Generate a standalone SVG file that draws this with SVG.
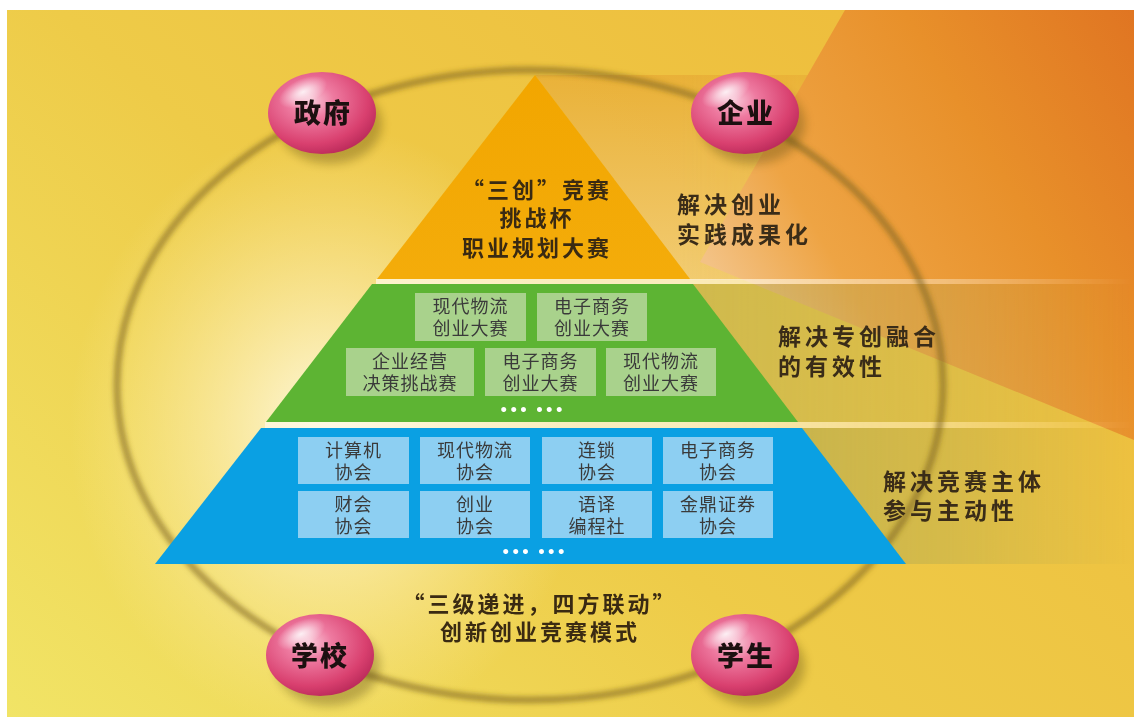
<svg xmlns="http://www.w3.org/2000/svg" width="1134" height="717" viewBox="0 0 1134 717">
<defs>
<linearGradient id="bg" x1="0" y1="1" x2="1" y2="0.3">
<stop offset="0" stop-color="#f1e466"/>
<stop offset="0.5" stop-color="#eecb48"/>
<stop offset="1" stop-color="#eebd3c"/>
</linearGradient>
<linearGradient id="org" x1="710" y1="265" x2="1134" y2="10" gradientUnits="userSpaceOnUse">
<stop offset="0" stop-color="#f3c285"/>
<stop offset="0.22" stop-color="#eea444"/>
<stop offset="0.6" stop-color="#e8902a"/>
<stop offset="1" stop-color="#e07522"/>
</linearGradient>
<radialGradient id="glow" cx="330" cy="430" r="290" gradientUnits="userSpaceOnUse" gradientTransform="translate(330 430) scale(0.9 1.05) translate(-330 -430)">
<stop offset="0" stop-color="#fffbe8" stop-opacity="0.95"/>
<stop offset="0.45" stop-color="#fff4c8" stop-opacity="0.55"/>
<stop offset="1" stop-color="#fff0b0" stop-opacity="0"/>
</radialGradient>
<linearGradient id="topband" x1="0" y1="0" x2="0" y2="1">
<stop offset="0" stop-color="#e5a030"/>
<stop offset="1" stop-color="#f6d2a0"/>
</linearGradient>
<linearGradient id="fadeR" x1="680" y1="0" x2="1134" y2="0" gradientUnits="userSpaceOnUse">
<stop offset="0" stop-color="#fff" stop-opacity="1"/>
<stop offset="0.6" stop-color="#fff" stop-opacity="0.5"/>
<stop offset="1" stop-color="#fff" stop-opacity="0"/>
</linearGradient>
<mask id="mfade"><rect x="0" y="0" width="1134" height="717" fill="url(#fadeR)"/></mask>
<linearGradient id="tierO" x1="0" y1="0" x2="0" y2="1">
<stop offset="0" stop-color="#f2a600"/>
<stop offset="1" stop-color="#f4ac0a"/>
</linearGradient>
<radialGradient id="ball" cx="0.4" cy="0.35" r="0.7">
<stop offset="0" stop-color="#f9c8d8"/>
<stop offset="0.3" stop-color="#ee7aa0"/>
<stop offset="0.75" stop-color="#d9406f"/>
<stop offset="1" stop-color="#b82858"/>
</radialGradient>
<radialGradient id="hl" cx="0.5" cy="0.5" r="0.5">
<stop offset="0" stop-color="#fff" stop-opacity="0.85"/>
<stop offset="1" stop-color="#fff" stop-opacity="0"/>
</radialGradient>
<filter id="blur2" x="-10%" y="-10%" width="120%" height="120%"><feGaussianBlur stdDeviation="2.4"/></filter>
<filter id="blur5" x="-30%" y="-30%" width="160%" height="160%"><feGaussianBlur stdDeviation="5"/></filter>
<style>
.t{font-family:"Noto Sans CJK SC","Noto Sans CJK JP",sans-serif;font-weight:700;fill:#3a2a12;font-size:22px;letter-spacing:3px}
.r{font-family:"Noto Sans CJK SC","Noto Sans CJK JP",sans-serif;font-weight:700;fill:#3a2c18;font-size:23px;letter-spacing:4px}
.b{font-family:"Noto Sans CJK SC","Noto Sans CJK JP",sans-serif;font-weight:400;fill:#3a3a3a;font-size:18px;letter-spacing:1px;text-anchor:middle}
.bl{font-family:"Noto Sans CJK SC","Noto Sans CJK JP",sans-serif;font-weight:900;fill:#1c1010;font-size:27px;letter-spacing:2px;text-anchor:middle}
.gb{fill:#a9d28c}
.bb{fill:#8dcff2}
.gap{fill:#fff8e4;opacity:0.75}
.dots{font-family:"DejaVu Sans",sans-serif;font-weight:700;fill:#fff;font-size:14px;letter-spacing:1px;text-anchor:middle}
</style>
</defs>
<rect x="0" y="0" width="1134" height="717" fill="#fff"/>
<g id="background">
<rect x="7" y="10" width="1127" height="707" fill="url(#bg)"/>
<rect x="7" y="10" width="1127" height="707" fill="url(#glow)"/>
<g mask="url(#mfade)">
<polygon points="535,75 1134,75 1134,280 690,280" fill="url(#topband)" opacity="0.5"/>
</g>
<polygon points="845,10 1134,10 1134,440 700,262" fill="url(#org)"/>
<g mask="url(#mfade)">
<rect x="376" y="279" width="758" height="5" class="gap"/>
<rect x="265" y="422" width="869" height="6" class="gap"/>
<polygon points="692,284 1134,284 1134,422 797,422" fill="#a9ab5a" opacity="0.45"/>
<polygon points="800,428 1134,428 1134,564 905,564" fill="#8f9a5a" opacity="0.5"/>
</g>
<ellipse cx="530" cy="385" rx="413" ry="315" fill="none" stroke="#806522" stroke-opacity="0.6" stroke-width="7" filter="url(#blur2)"/>
</g>
<g id="pyramid">
<polygon id="tier-top" points="535,75 690,279 377,279" fill="url(#tierO)"/>
<polygon id="tier-mid" points="372,284 693,284 798,422 266,422" fill="#5db433"/>
<polygon id="tier-base" points="261,428 802,428 906,564 155,564" fill="#0aa0e3"/>
</g>
<g id="top-tier-text">
<text class="t" x="537" y="198" text-anchor="middle">“三创”竞赛</text>
<text class="t" x="537" y="226" text-anchor="middle">挑战杯</text>
<text class="t" x="537" y="256" text-anchor="middle">职业规划大赛</text>
</g>
<g id="mid-boxes">
<g id="m1"><rect class="gb" x="415" y="293" width="111" height="48"/><text class="b" x="470.5" y="313">现代物流<tspan x="470.5" dy="22">创业大赛</tspan></text></g>
<g id="m2"><rect class="gb" x="537" y="293" width="110" height="48"/><text class="b" x="592" y="313">电子商务<tspan x="592" dy="22">创业大赛</tspan></text></g>
<g id="m3"><rect class="gb" x="346" y="348" width="128" height="48"/><text class="b" x="410" y="368">企业经营<tspan x="410" dy="22">决策挑战赛</tspan></text></g>
<g id="m4"><rect class="gb" x="485" y="348" width="111" height="48"/><text class="b" x="540.5" y="368">电子商务<tspan x="540.5" dy="22">创业大赛</tspan></text></g>
<g id="m5"><rect class="gb" x="606" y="348" width="110" height="48"/><text class="b" x="661" y="368">现代物流<tspan x="661" dy="22">创业大赛</tspan></text></g>
<text class="dots" x="532" y="415">••• •••</text>
</g>
<g id="base-boxes">
<g id="c1"><rect class="bb" x="298" y="437" width="111" height="47"/><text class="b" x="353.5" y="457">计算机<tspan x="353.5" dy="22">协会</tspan></text></g>
<g id="c2"><rect class="bb" x="420" y="437" width="110" height="47"/><text class="b" x="475" y="457">现代物流<tspan x="475" dy="22">协会</tspan></text></g>
<g id="c3"><rect class="bb" x="542" y="437" width="110" height="47"/><text class="b" x="597" y="457">连锁<tspan x="597" dy="22">协会</tspan></text></g>
<g id="c4"><rect class="bb" x="663" y="437" width="110" height="47"/><text class="b" x="718" y="457">电子商务<tspan x="718" dy="22">协会</tspan></text></g>
<g id="c5"><rect class="bb" x="298" y="491" width="111" height="47"/><text class="b" x="353.5" y="511">财会<tspan x="353.5" dy="22">协会</tspan></text></g>
<g id="c6"><rect class="bb" x="420" y="491" width="110" height="47"/><text class="b" x="475" y="511">创业<tspan x="475" dy="22">协会</tspan></text></g>
<g id="c7"><rect class="bb" x="542" y="491" width="110" height="47"/><text class="b" x="597" y="511">语译<tspan x="597" dy="22">编程社</tspan></text></g>
<g id="c8"><rect class="bb" x="663" y="491" width="110" height="47"/><text class="b" x="718" y="511">金鼎证券<tspan x="718" dy="22">协会</tspan></text></g>
<text class="dots" x="534" y="557">••• •••</text>
</g>
<g id="side-labels">
<text class="r" x="677" y="213">解决创业</text>
<text class="r" x="677" y="243">实践成果化</text>
<text class="r" x="778" y="345">解决专创融合</text>
<text class="r" x="778" y="375">的有效性</text>
<text class="r" x="883" y="490">解决竞赛主体</text>
<text class="r" x="883" y="519">参与主动性</text>
</g>
<g id="caption">
<text class="t" x="540" y="612" text-anchor="middle">“三级递进，四方联动”</text>
<text class="t" x="540" y="640" text-anchor="middle">创新创业竞赛模式</text>
</g>
<g id="node-zhengfu">
<ellipse cx="330" cy="124" rx="52" ry="40" fill="#5a4a10" opacity="0.35" filter="url(#blur5)"/>
<ellipse cx="322" cy="113" rx="54" ry="41" fill="url(#ball)"/>
<ellipse cx="303" cy="92" rx="26" ry="13" fill="url(#hl)" transform="rotate(-25 303 92)"/>
<text class="bl" x="323" y="123">政府</text>
</g>
<g id="node-qiye">
<ellipse cx="753" cy="124" rx="52" ry="40" fill="#5a4a10" opacity="0.35" filter="url(#blur5)"/>
<ellipse cx="745" cy="113" rx="54" ry="41" fill="url(#ball)"/>
<ellipse cx="726" cy="92" rx="26" ry="13" fill="url(#hl)" transform="rotate(-25 726 92)"/>
<text class="bl" x="746" y="123">企业</text>
</g>
<g id="node-xuexiao">
<ellipse cx="328" cy="666" rx="52" ry="40" fill="#5a4a10" opacity="0.35" filter="url(#blur5)"/>
<ellipse cx="320" cy="655" rx="54" ry="41" fill="url(#ball)"/>
<ellipse cx="301" cy="634" rx="26" ry="13" fill="url(#hl)" transform="rotate(-25 301 634)"/>
<text class="bl" x="320" y="666">学校</text>
</g>
<g id="node-xuesheng">
<ellipse cx="753" cy="666" rx="52" ry="40" fill="#5a4a10" opacity="0.35" filter="url(#blur5)"/>
<ellipse cx="745" cy="655" rx="54" ry="41" fill="url(#ball)"/>
<ellipse cx="726" cy="634" rx="26" ry="13" fill="url(#hl)" transform="rotate(-25 726 634)"/>
<text class="bl" x="746" y="666">学生</text>
</g>
</svg>
